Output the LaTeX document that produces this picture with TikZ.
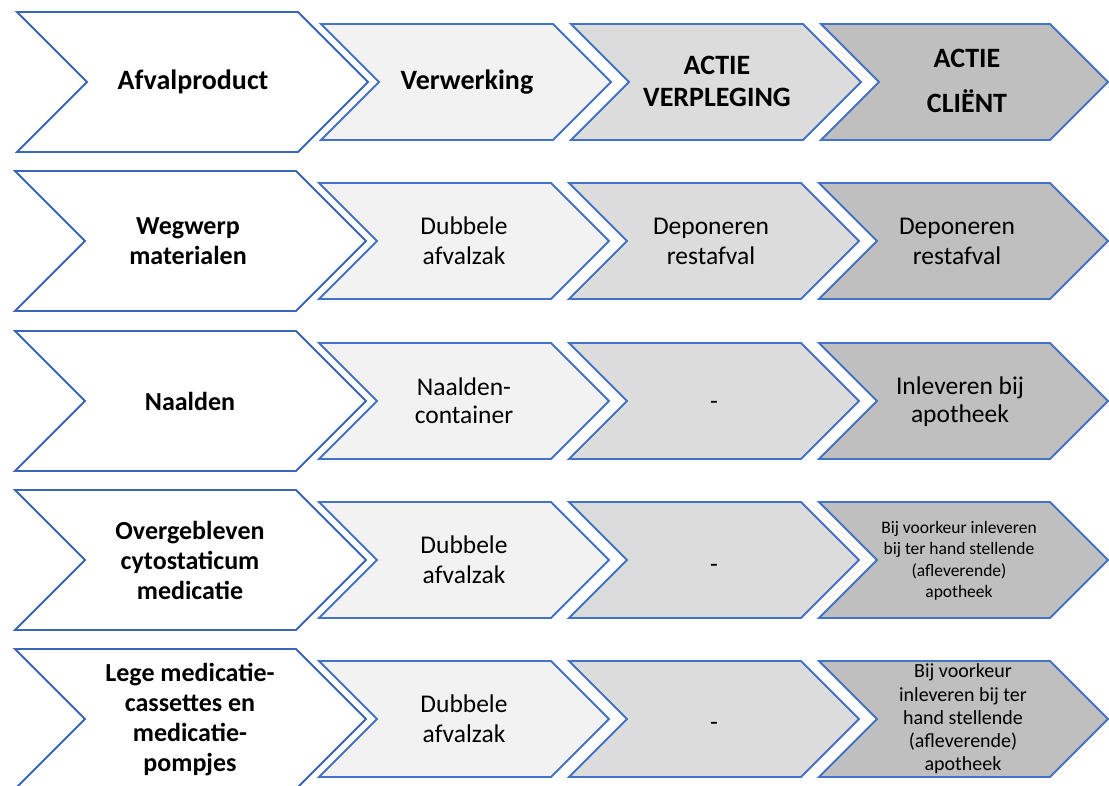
\documentclass[tikz,border=0pt]{standalone}
\usepackage{fontspec}
\setmainfont{Carlito}
\definecolor{cblue}{HTML}{4472C4}
\definecolor{cdark}{HTML}{3B66B8}
\definecolor{fA}{HTML}{FFFFFF}
\definecolor{fB}{HTML}{F2F2F2}
\definecolor{fC}{HTML}{DCDCDC}
\definecolor{fD}{HTML}{BFBFBF}
\newcommand\mychev[6]{%
  % #1 left, #2 tip, #3 depth (=half height), #4 centre y, #5 fill, #6 stroke
  \filldraw[chev, fill=#5, draw=#6] ({#1},{#4-#3}) -- ({#2-#3},{#4-#3}) -- ({#2},{#4}) --
    ({#2-#3},{#4+#3}) -- ({#1},{#4+#3}) -- ({#1+#3},{#4}) -- cycle;}
\tikzset{
  chev/.style={line width=1.9pt, line join=miter},
  hdr/.style={font=\bfseries\fontsize{28}{32}\selectfont, align=center, inner sep=0pt},
  lbl/.style={font=\bfseries\fontsize{26}{30}\selectfont, align=center, inner sep=0pt},
  txt/.style={font=\fontsize{25.5}{30}\selectfont, align=center, inner sep=0pt},
  txtb/.style={font=\fontsize{25.5}{28}\selectfont, align=center, inner sep=0pt},
  small/.style={font=\fontsize{17.5}{21.5}\selectfont, align=center, inner sep=0pt},
  smallb/.style={font=\fontsize{20}{23.2}\selectfont, align=center, inner sep=0pt},
}
\begin{document}
\begin{tikzpicture}[x=1pt,y=-1pt]
\useasboundingbox (0,0) rectangle (1109,785);
% chevrons
\foreach \c/\o in {82/2, 241/0, 401/0, 560/0, 719/0}{
  \mychev{15+\o}{366+\o}{70}{\c}{fA}{cdark}
  \mychev{319+\o}{609+\o}{58}{\c}{fB}{cblue}
  \mychev{569+\o}{859+\o}{58}{\c}{fC}{cblue}
  \mychev{819+\o}{1108}{58}{\c}{fD}{cblue}
}
% header row
\node[hdr] (h1) at (193,82) {Afvalproduct};
\node[hdr] (h2) at (467,82) {Verwerking};
\node[hdr] (h3) at (717,81) {ACTIE\\VERPLEGING};
\node[hdr] (h4) at (967,81) {ACTIE\\[13pt]CLIËNT};
% row 2
\node[lbl] (a1) at (188,241) {Wegwerp\\materialen};
\node[txt] (a2) at (464,241) {Dubbele\\afvalzak};
\node[txt] (a3) at (711,241) {Deponeren\\restafval};
\node[txt] (a4) at (957,241) {Deponeren\\restafval};
% row 3
\node[lbl] (b1) at (190,401) {Naalden};
\node[txtb] (b2) at (464,401) {Naalden-\\container};
\node[txt] (b3) at (714,405) {-};
\node[txtb] (b4) at (960,402) {Inleveren bij\\apotheek};
% row 4
\node[lbl] (c1) at (190,560) {Overgebleven\\cytostaticum\\medicatie};
\node[txt] (c2) at (464,560) {Dubbele\\afvalzak};
\node[txt] (c3) at (714,568) {-};
\node[small] (c4) at (959,561) {Bij voorkeur inleveren\\bij ter hand stellende\\(afleverende)\\apotheek};
% row 5
\node[lbl] (d1) at (190,720) {Lege medicatie-\\cassettes en\\medicatie-\\pompjes};
\node[txt] (d2) at (464,719) {Dubbele\\afvalzak};
\node[txt] (d3) at (714,726) {-};
\node[smallb] (d4) at (963,719) {Bij voorkeur\\inleveren bij ter\\hand stellende\\(afleverende)\\apotheek};
\end{tikzpicture}
\end{document}
